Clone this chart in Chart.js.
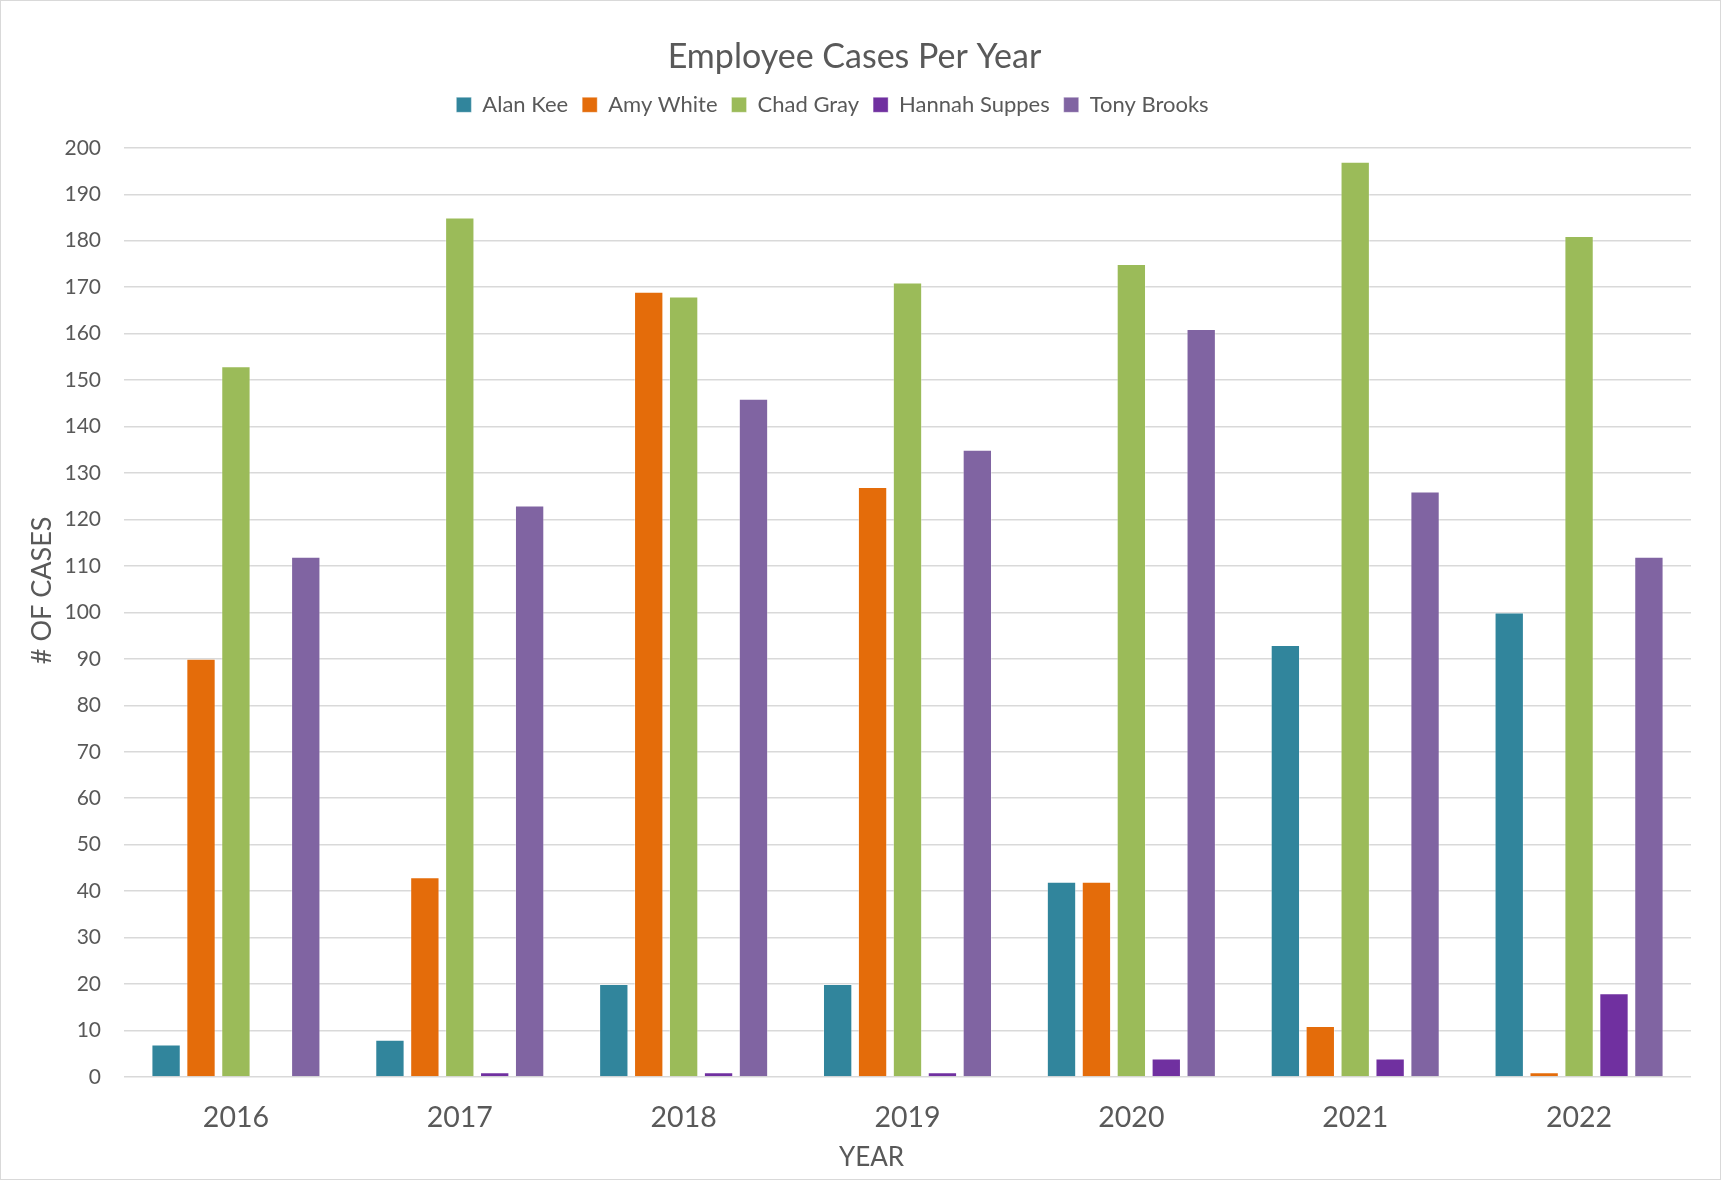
<!DOCTYPE html>
<html>
<head>
<meta charset="utf-8">
<script src="https://cdn.jsdelivr.net/npm/chart.js@4.4.1/dist/chart.umd.min.js"></script>
<style>
  html, body { margin: 0; padding: 0; background: #ffffff; }
  #wrap { width: 1721px; height: 1180px; position: relative; }
</style>
</head>
<body>
<div id="wrap"><canvas id="c" width="1721" height="1180"></canvas></div>
<script>
const years = ['2016', '2017', '2018', '2019', '2020', '2021', '2022'];
const alanKee = [7, 8, 20, 20, 42, 93, 100];
const amyWhite = [90, 43, 169, 127, 42, 11, 1];
const chadGray = [153, 185, 168, 171, 175, 197, 181];
const hannahSuppes = [0, 1, 1, 1, 4, 4, 18];
const tonyBrooks = [112, 123, 146, 135, 161, 126, 112];
const yMin = 0, yMax = 200, yStep = 10;
const xAxisTitle = 'YEAR';
const yAxisTitle = '# OF CASES';

const textColor = '#595959';
const FONT = 'Lato, "Open Sans", "DejaVu Sans", sans-serif';

const bgPlugin = {
  id: 'bg',
  beforeDraw(chart) {
    const ctx = chart.ctx;
    ctx.save();
    ctx.fillStyle = '#ffffff';
    ctx.fillRect(0, 0, chart.width, chart.height);
    ctx.strokeStyle = '#d9d9d9';
    ctx.lineWidth = 1;
    ctx.strokeRect(0.5, 0.5, chart.width - 1, chart.height - 1);
    ctx.restore();
  }
};

const legendTweak = {
  id: 'legendTweak',
  beforeInit(chart) {
    const lg = chart.legend;
    if (!lg) return;
    const origFit = lg.fit;
    lg.fit = function () {
      origFit.call(this);
      this.height += 22;
    };
    const origDraw = lg.draw;
    lg.draw = function () {
      const ctx = this.ctx;
      ctx.save();
      ctx.translate(-22, 0);
      origDraw.apply(this, arguments);
      ctx.restore();
    };
  }
};

// axis titles drawn relative to the chart area
const axisTitles = {
  id: 'axisTitles',
  afterDraw(chart) {
    const ctx = chart.ctx;
    const a = chart.chartArea;
    ctx.save();
    ctx.fillStyle = textColor;
    ctx.textAlign = 'center';
    ctx.textBaseline = 'middle';
    ctx.font = '26px ' + FONT;
    ctx.fillText(xAxisTitle, (a.left + a.right) / 2 - 36, 1158);
    ctx.translate(42, (a.top + a.bottom) / 2 - 22);
    ctx.rotate(-Math.PI / 2);
    ctx.font = '27px ' + FONT;
    ctx.fillText(yAxisTitle, 0, 0);
    ctx.restore();
  }
};

function ds(label, data, color) {
  return {
    label, data,
    backgroundColor: color,
    borderColor: 'rgba(255,255,255,0.35)',
    borderWidth: 1,
    categoryPercentage: 0.78,
    barPercentage: 0.84
  };
}

new Chart(document.getElementById('c'), {
  type: 'bar',
  data: {
    labels: years,
    datasets: [
      ds('Alan Kee', alanKee, '#31859C'),
      ds('Amy White', amyWhite, '#E46C0A'),
      ds('Chad Gray', chadGray, '#9BBB59'),
      ds('Hannah Suppes', hannahSuppes, '#7030A0'),
      ds('Tony Brooks', tonyBrooks, '#8064A2')
    ]
  },
  options: {
    responsive: false,
    animation: false,
    devicePixelRatio: 1,
    layout: { padding: { left: 18, right: 30, top: 0, bottom: 8 } },
    plugins: {
      title: {
        display: true,
        text: 'Employee Cases Per Year',
        color: textColor,
        font: { family: FONT, size: 34, weight: 'normal' },
        padding: { top: 37, bottom: 2 }
      },
      legend: {
        display: true,
        position: 'top',
        labels: {
          color: textColor,
          font: { family: FONT, size: 22 },
          boxWidth: 15,
          boxHeight: 15,
          padding: 14,
          useBorderRadius: false
        }
      },
      tooltip: { enabled: false }
    },
    scales: {
      x: {
        grid: { display: false, drawTicks: false },
        border: { display: false },
        ticks: { color: textColor, font: { family: FONT, size: 28.5 }, padding: 24 },
        afterFit(scale) { scale.height = 1180 - 1077 - 8; }
      },
      y: {
        min: yMin, max: yMax,
        grid: { color: '#d9d9d9', lineWidth: 1.5, drawTicks: false },
        border: { display: false },
        ticks: { stepSize: yStep, color: textColor, font: { family: FONT, size: 21 }, padding: 23 },
        afterFit(scale) { scale.width = 124 - 18; }
      }
    }
  },
  plugins: [bgPlugin, legendTweak, axisTitles]
});
</script>
</body>
</html>
